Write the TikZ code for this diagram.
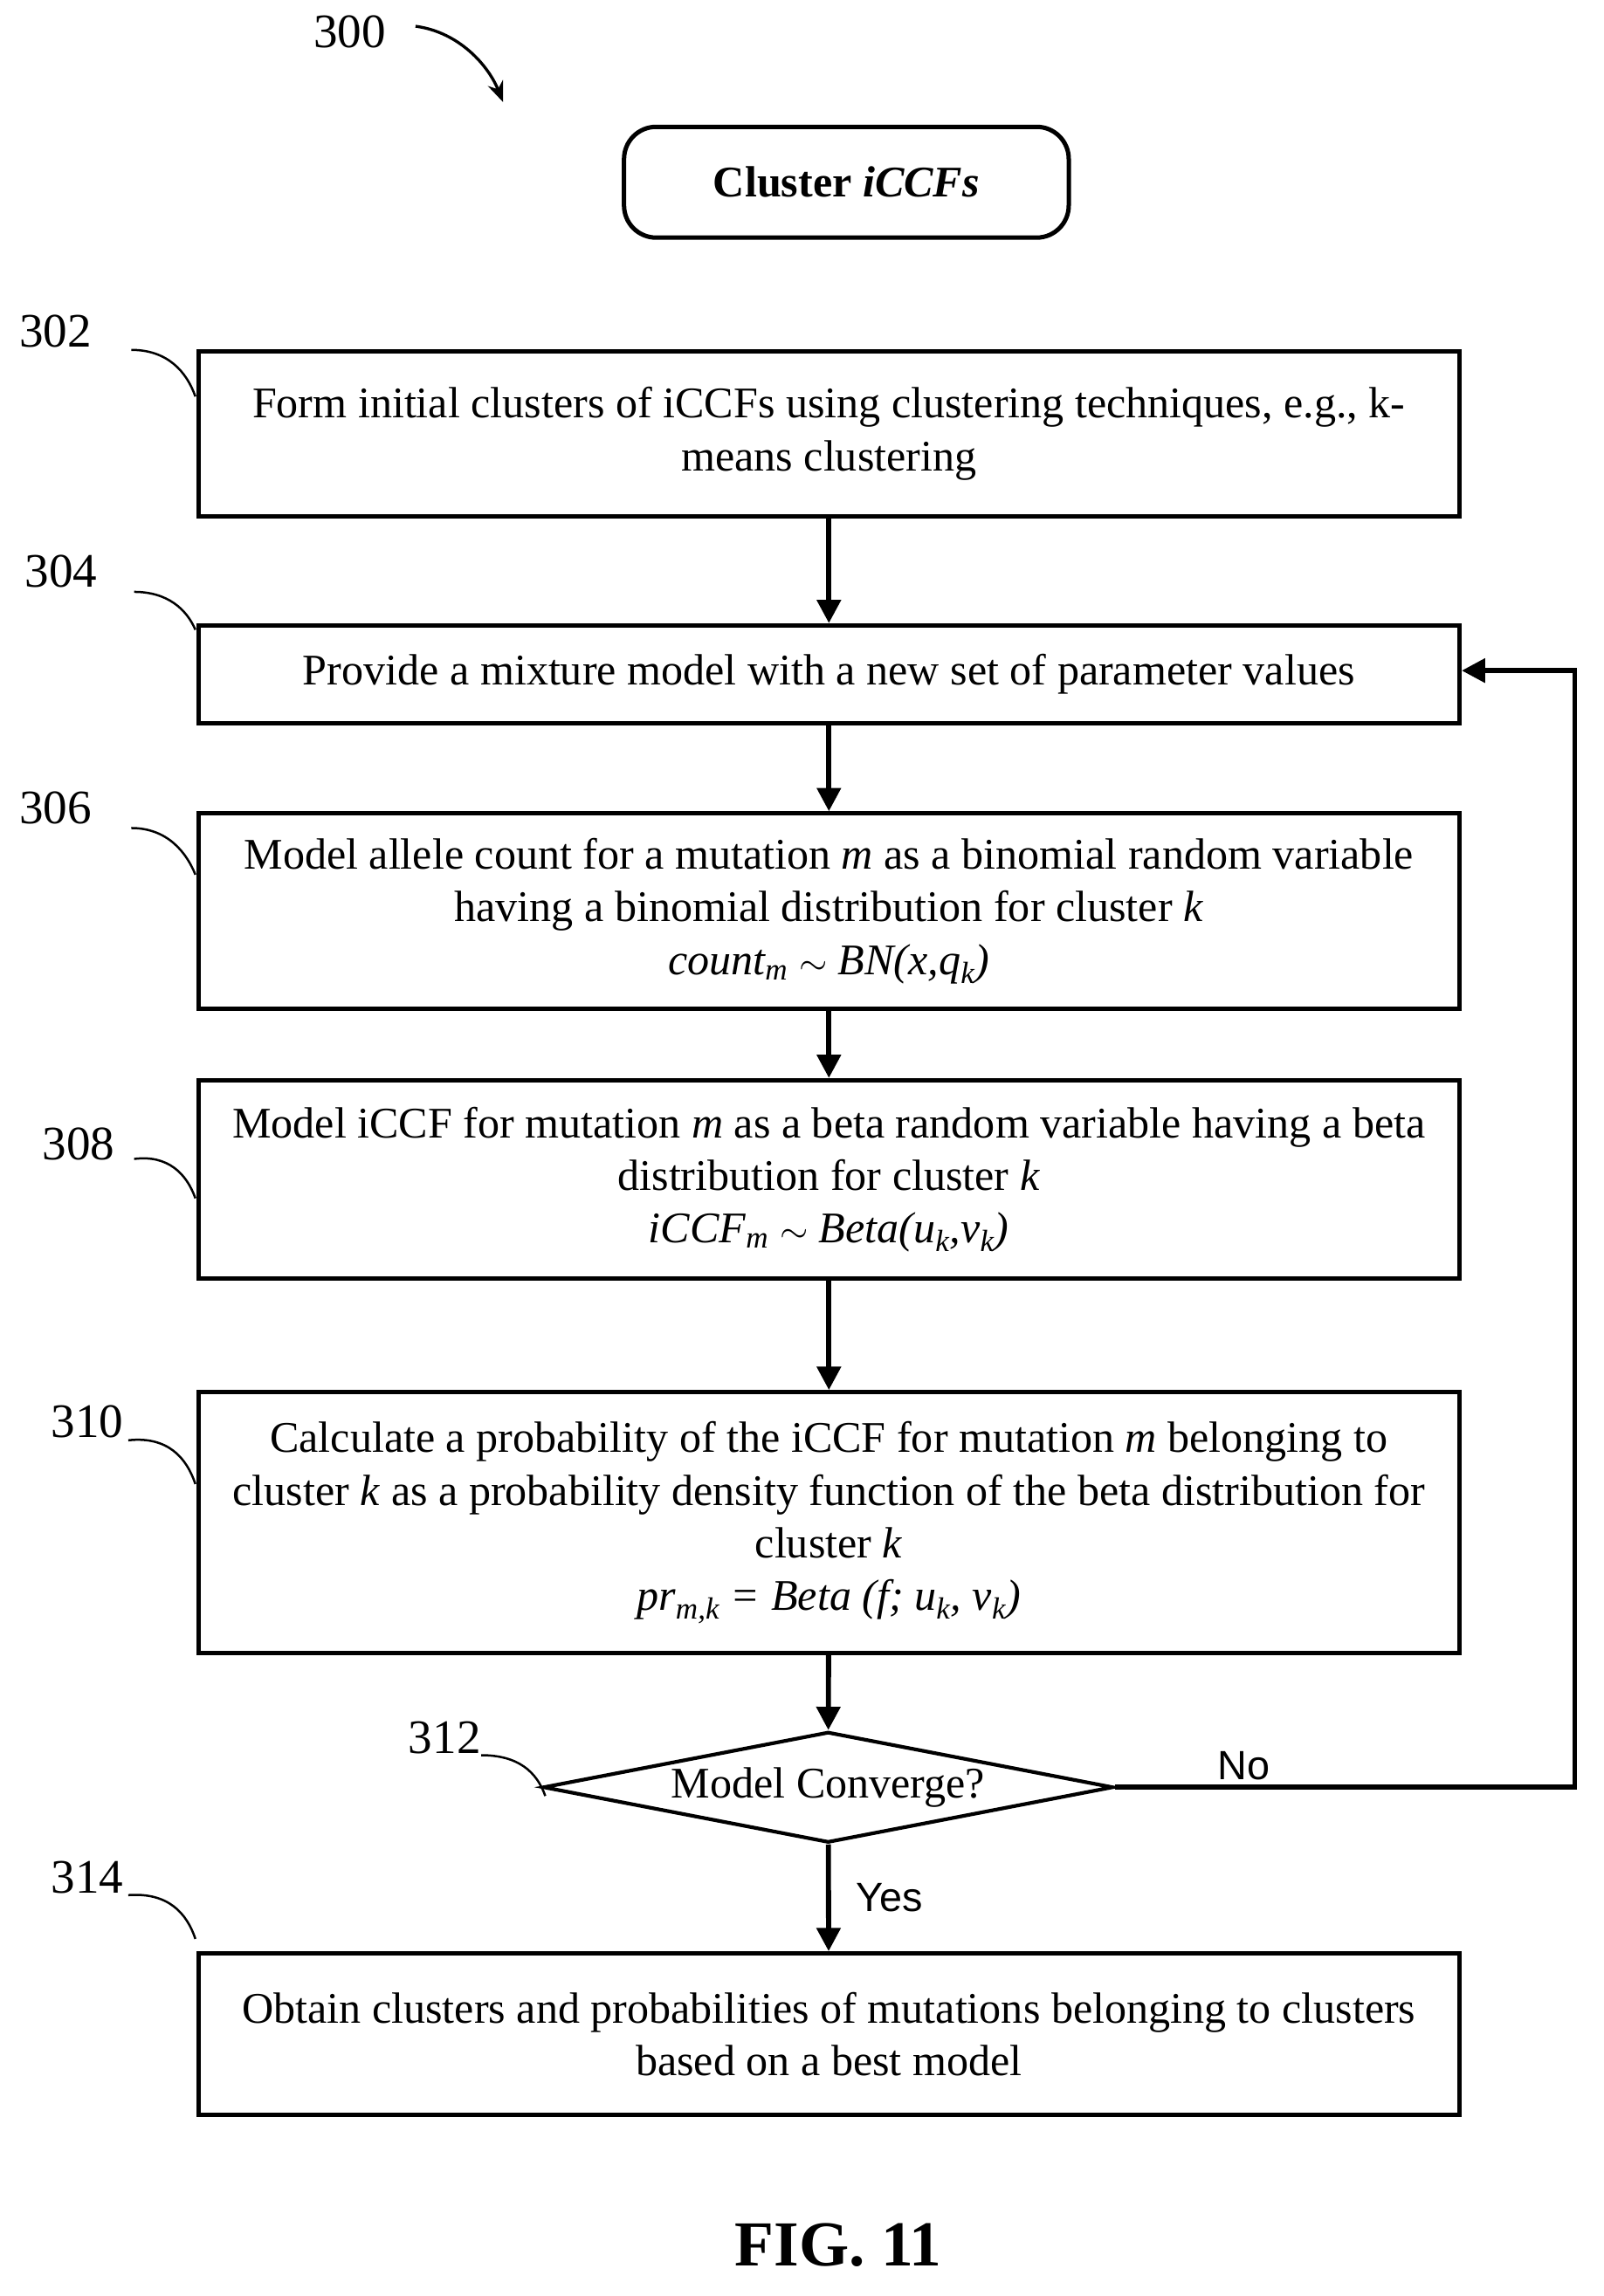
\documentclass[tikz,border=0pt]{standalone}
\usepackage{fontspec}
\setmainfont{Liberation Serif}
\setsansfont{Liberation Sans}
\usetikzlibrary{shapes.geometric,arrows.meta}
\begin{document}
\begin{tikzpicture}[x=1pt,y=-1pt,
  box/.style={draw,line width=3pt,align=center,font=\fontsize{30}{36}\selectfont,inner sep=0pt},
  arr/.style={line width=3.5pt,-{Triangle[length=16pt,width=16pt]}},
  lbl/.style={font=\fontsize{33}{36}\selectfont},
  hook/.style={line width=1.5pt}]
\useasboundingbox (0,0) rectangle (1100,1575);
\node[lbl] (n300) at (240,22) {300};
\draw[line width=2pt,-{Stealth[length=14pt,width=11pt]}] (285,18) .. controls (315,22) and (335,45) .. (345,70);
\node[draw,line width=3pt,rounded corners=22pt,minimum width=305pt,minimum height=76pt,font=\fontsize{30}{36}\selectfont\bfseries] (start) at (580.5,125) {Cluster \textit{iCCFs}};
\node[box,minimum width=865pt,minimum height=113pt] (b302) at (568.5,297.5) {Form initial clusters of iCCFs using clustering techniques, e.g., k-\\means clustering};
\node[box,minimum width=865pt,minimum height=67pt] (b304) at (568.5,462.5) {Provide a mixture model with a new set of parameter values};
\node[box,minimum width=865pt,minimum height=134pt] (b306) at (568.5,625) {Model allele count for a mutation \textit{m} as a binomial random variable\\having a binomial distribution for cluster \textit{k}\\\textit{count\textsubscript{m} $\sim$ BN(x,q\textsubscript{k})}};
\node[box,minimum width=865pt,minimum height=136pt] (b308) at (568.5,809) {Model iCCF for mutation \textit{m} as a beta random variable having a beta\\distribution for cluster \textit{k}\\\textit{iCCF\textsubscript{m} $\sim$ Beta(u\textsubscript{k},v\textsubscript{k})}};
\node[box,minimum width=865pt,minimum height=179pt] (b310) at (568.5,1044.5) {Calculate a probability of the iCCF for mutation \textit{m} belonging to\\cluster \textit{k} as a probability density function of the beta distribution for\\cluster \textit{k}\\\textit{pr\textsubscript{m,k} = Beta (f; u\textsubscript{k}, v\textsubscript{k})}};
\node[draw,diamond,line width=2.5pt,aspect=5.15,minimum width=391pt,minimum height=76pt,inner sep=0pt] (d312) at (568,1226) {};
\node[font=\fontsize{30}{36}\selectfont] at (568,1226) {Model Converge?};
\node[box,minimum width=865pt,minimum height=111pt] (b314) at (568.5,1395.5) {Obtain clusters and probabilities of mutations belonging to clusters\\based on a best model};
\node[font=\fontsize{44}{50}\selectfont\bfseries] (fig) at (575,1540) {FIG. 11};
\draw[arr] (b302) -- (b304);
\draw[arr] (b304) -- (b306);
\draw[arr] (b306) -- (b308);
\draw[arr] (b308) -- (b310);
\draw[arr] (b310) -- (d312);
\draw[arr] (d312) -- node[right=14pt,font=\sffamily\fontsize{28}{32}\selectfont]{Yes} (b314);
\coordinate (c1) at (1080,1226);
\coordinate (c2) at (1080,460);
\draw[line width=3.5pt,-{Triangle[length=16pt,width=16pt]}] (d312.east) -- node[above,pos=0.28,font=\sffamily\fontsize{28}{32}\selectfont]{No} (c1) -- (c2) -- (b304.east |- c2);
\node[lbl] (l302) at (38,227) {302};
\draw[hook] (90,240) .. controls (115,240) and (128,255) .. (134,272);
\node[lbl] (l304) at (42,392) {304};
\draw[hook] (92,406) .. controls (115,406) and (128,418) .. (134,432);
\node[lbl] (l306) at (38,554) {306};
\draw[hook] (90,568) .. controls (115,568) and (128,585) .. (134,600);
\node[lbl] (l308) at (54,785) {308};
\draw[hook] (92,795) .. controls (115,792) and (128,805) .. (134,822);
\node[lbl] (l310) at (60,975) {310};
\draw[hook] (88,988) .. controls (115,985) and (128,1000) .. (134,1018);
\node[lbl] (l312) at (305,1192) {312};
\draw[hook] (330,1204) .. controls (355,1204) and (368,1215) .. (374,1232);
\node[lbl] (l314) at (60,1288) {314};
\draw[hook] (88,1300) .. controls (115,1298) and (128,1312) .. (134,1330);
\end{tikzpicture}
\end{document}
